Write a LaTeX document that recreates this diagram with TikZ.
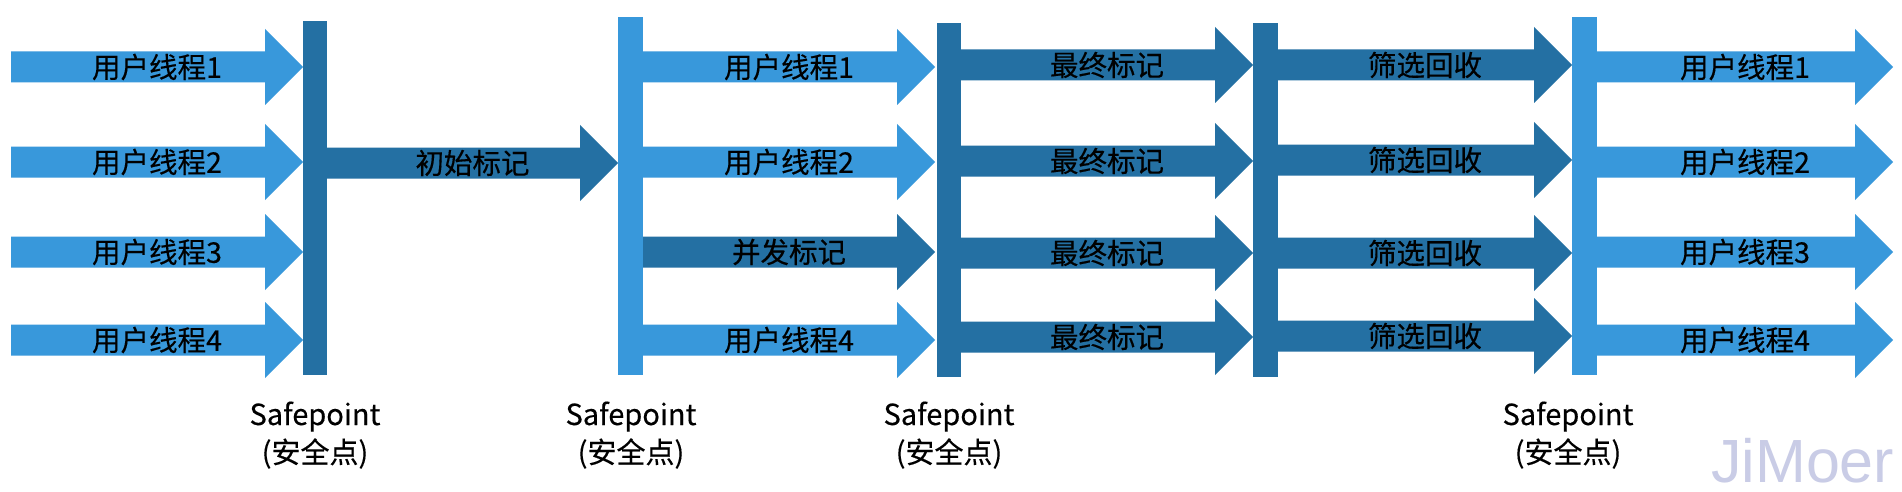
\documentclass[tikz,border=0pt]{standalone}
\usepackage{fontspec}
\setmainfont{Noto Sans CJK SC}[FakeBold=0.3]
\newfontfamily\wmfont{Liberation Sans}
\definecolor{lightb}{HTML}{3898DB}
\definecolor{darkb}{HTML}{2470A3}
\definecolor{wmcol}{HTML}{C9CCE6}
\tikzset{
  lbl/.style={font=\fontsize{28.5}{30}\selectfont, text=black, inner sep=0pt},
  splbl/.style={font=\fontsize{29}{31}\selectfont, text=black, inner sep=0pt, anchor=base},
}
% name, x0, x1, yc, colour, text
\newcommand\blockarr[6]{%
  \fill[#5] (#2,#4-15.5) -- (#3-38,#4-15.5) -- (#3-38,#4-38) -- (#3,#4)
     -- (#3-38,#4+38) -- (#3-38,#4+15.5) -- (#2,#4+15.5) -- cycle;
  \node[lbl] (#1) at ({(#2+#3)/2},#4) {#6};}
% name, x0, x1, ytop, ybot, colour
\newcommand\vbar[6]{%
  \pgfmathsetmacro\barw{#3-#2}%
  \pgfmathsetmacro\barh{#5-#4}%
  \node[inner sep=0pt, outer sep=0pt, fill=#6, minimum width=\barw pt, minimum height=\barh pt]
     (#1) at ({(#2+#3)/2},{(#4+#5)/2}) {};}
\newcommand\safept[2]{%
  \node[splbl] (#1a) at (#2,425) {Safepoint};
  \node[splbl] (#1b) at (#2,463) {(安全点)};}
\begin{document}
\begin{tikzpicture}[x=1pt,y=-1pt]
\useasboundingbox (0,0) rectangle (1902,492);
\fill[white] (0,0) rectangle (1902,492);
% column A
\blockarr{a1}{11}{303}{67}{lightb}{用户线程1}
\blockarr{a2}{11}{303}{162}{lightb}{用户线程2}
\blockarr{a3}{11}{303}{252}{lightb}{用户线程3}
\blockarr{a4}{11}{303}{340}{lightb}{用户线程4}
\vbar{bar1}{303}{327}{21}{375}{darkb}
% initial mark
\blockarr{init}{327}{618}{163}{darkb}{初始标记}
\vbar{bar2}{618}{643}{17}{375}{lightb}
% column B
\blockarr{b1}{643}{935}{67}{lightb}{用户线程1}
\blockarr{b2}{643}{935}{162}{lightb}{用户线程2}
\blockarr{b3}{643}{935}{252}{darkb}{并发标记}
\blockarr{b4}{643}{935}{340}{lightb}{用户线程4}
\vbar{bar3}{937}{961}{23}{377}{darkb}
% column C
\blockarr{c1}{961}{1253}{65}{darkb}{最终标记}
\blockarr{c2}{961}{1253}{161}{darkb}{最终标记}
\blockarr{c3}{961}{1253}{253}{darkb}{最终标记}
\blockarr{c4}{961}{1253}{337}{darkb}{最终标记}
\vbar{bar4}{1253}{1278}{23}{377}{darkb}
% column D
\blockarr{d1}{1278}{1572}{65}{darkb}{筛选回收}
\blockarr{d2}{1278}{1572}{160}{darkb}{筛选回收}
\blockarr{d3}{1278}{1572}{253}{darkb}{筛选回收}
\blockarr{d4}{1278}{1572}{336}{darkb}{筛选回收}
\vbar{bar5}{1572}{1597}{17}{375}{lightb}
% column E
\blockarr{e1}{1597}{1893}{67}{lightb}{用户线程1}
\blockarr{e2}{1597}{1893}{162}{lightb}{用户线程2}
\blockarr{e3}{1597}{1893}{252}{lightb}{用户线程3}
\blockarr{e4}{1597}{1893}{340}{lightb}{用户线程4}
% safepoint labels
\safept{sp1}{315}
\safept{sp2}{631}
\safept{sp3}{949}
\safept{sp5}{1568}
% watermark
\node[anchor=base west, inner sep=0pt, text=wmcol, font=\wmfont\fontsize{61}{61}\selectfont] (wm) at (1711,482) {JiMoer};
\end{tikzpicture}
\end{document}
